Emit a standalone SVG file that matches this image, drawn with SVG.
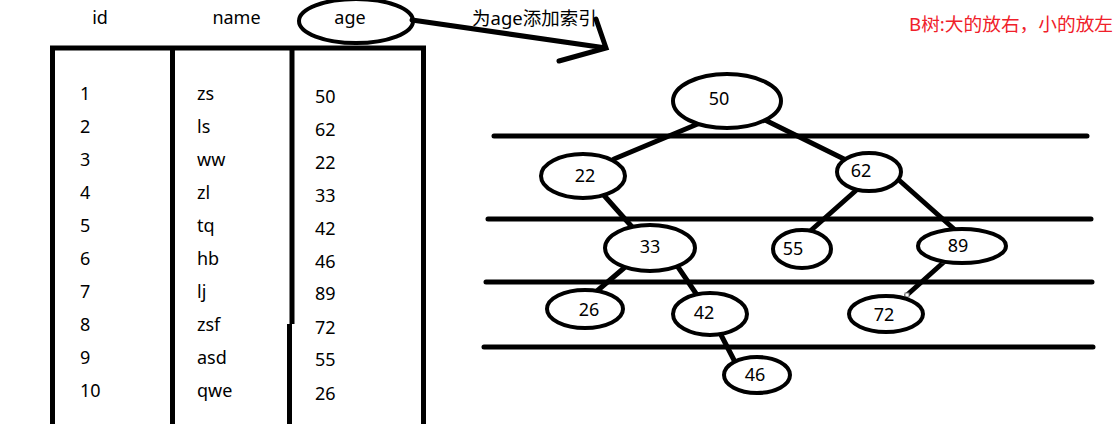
<svg xmlns="http://www.w3.org/2000/svg" width="1117" height="424" viewBox="0 0 1117 424">
<style>
text{font-family:"Noto Sans","Noto Sans CJK SC",sans-serif;font-size:18px;fill:#000}
.m{text-anchor:middle}
.red{fill:#f0202a;font-size:18.7px}
.ln{stroke:#000;stroke-width:5;fill:none;stroke-linecap:round}
.tl{stroke:#000;stroke-width:5;fill:none;stroke-linecap:butt}
.nd{stroke:#000;stroke-width:4;fill:#fff}
.h{fill:#fff;stroke:#777;stroke-width:1}
</style>
<rect width="1117" height="424" fill="#fff"/>
<g id="table">
<path class="tl" d="M50,48 H426 M52.5,48 V424 M172.5,48 V424 M292,48 V324 M289.5,324 V424 M423.5,48 V424"/>
</g>
<g id="headers">
<text x="100" y="24" class="m">id</text>
<text x="236.5" y="24" class="m">name</text>
<ellipse cx="356" cy="21" rx="57" ry="22" style="fill:none;stroke:#000;stroke-width:4"/>
<text x="350" y="24" class="m">age</text>
</g>
<g id="col-id">
<text x="80" y="100">1</text><text x="80" y="133">2</text><text x="80" y="166">3</text><text x="80" y="199">4</text><text x="80" y="232">5</text><text x="80" y="265">6</text><text x="80" y="298">7</text><text x="80" y="331">8</text><text x="80" y="364">9</text><text x="80" y="397">10</text>
</g>
<g id="col-name">
<text x="197" y="100">zs</text><text x="197" y="133">ls</text><text x="197" y="166">ww</text><text x="197" y="199">zl</text><text x="197" y="232">tq</text><text x="197" y="265">hb</text><text x="197" y="298">lj</text><text x="197" y="331">zsf</text><text x="197" y="364">asd</text><text x="197" y="397">qwe</text>
</g>
<g id="col-age">
<text x="315" y="103">50</text><text x="315" y="136">62</text><text x="315" y="169">22</text><text x="315" y="202">33</text><text x="315" y="235">42</text><text x="315" y="268">46</text><text x="315" y="300">89</text><text x="315" y="334">72</text><text x="315" y="366">55</text><text x="315" y="400">26</text>
</g>
<g id="index-arrow">
<path class="ln" d="M412,20 L606,48 M596,19 L606,48 L559,61"/>
<text x="472" y="25" style="font-size:18.5px">为age添加索引</text>
</g>
<text id="note" x="909" y="31" class="red">B树:大的放右，小的放左</text>
<g id="levels">
<path class="ln" d="M494,136 H1087 M488,219 H1091 M486,282 H1092 M484,347 H1093"/>
</g>
<g id="connectors">
<path class="ln" d="M700,123 L614,159 M765,120 L846,160 M601,192 L633,228 M861,186 L808,233 M900,181 L954,229 M624,268 L597,291 M678,267 L697,295 M945,261 L907,295 M719,331 L735,362"/>
<rect class="h" x="942" y="259" width="4" height="4"/>
<rect class="h" x="905" y="293" width="4" height="4"/>
</g>
<g id="node-50"><ellipse class="nd" cx="727" cy="101" rx="54" ry="27"/><text class="m" x="719" y="105">50</text></g>
<g id="node-22"><ellipse class="nd" cx="583" cy="176" rx="42" ry="22"/><text class="m" x="585" y="182">22</text></g>
<g id="node-62"><ellipse class="nd" cx="869" cy="172" rx="32" ry="19"/><text class="m" x="861" y="177">62</text></g>
<g id="node-33"><ellipse class="nd" cx="650" cy="248" rx="45" ry="23"/><text class="m" x="650" y="253">33</text></g>
<g id="node-55"><ellipse class="nd" cx="802" cy="249" rx="29" ry="19"/><text class="m" x="793" y="255">55</text></g>
<g id="node-89"><ellipse class="nd" cx="962" cy="246" rx="44" ry="17"/><text class="m" x="958" y="252">89</text></g>
<g id="node-26"><ellipse class="nd" cx="585" cy="309" rx="38" ry="19"/><text class="m" x="589" y="316">26</text></g>
<g id="node-42"><ellipse class="nd" cx="710" cy="314" rx="37" ry="21"/><text class="m" x="704" y="319">42</text></g>
<g id="node-72"><ellipse class="nd" cx="886" cy="314" rx="37" ry="18"/><text class="m" x="884" y="321">72</text></g>
<g id="node-46"><ellipse class="nd" cx="757" cy="375" rx="33" ry="18"/><text class="m" x="755" y="381">46</text></g>
</svg>
